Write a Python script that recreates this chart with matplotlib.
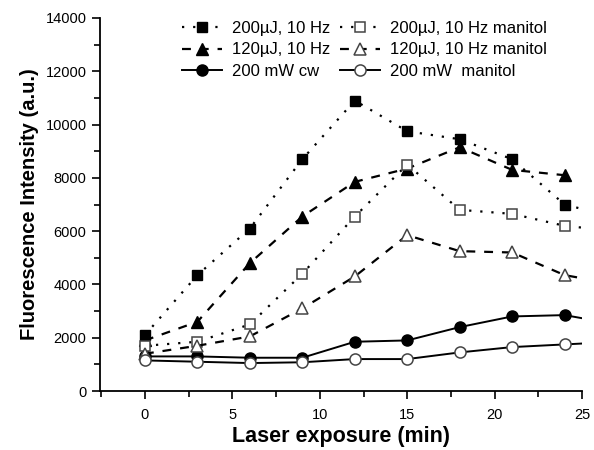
import matplotlib
matplotlib.use("Agg")
import matplotlib.pyplot as plt
from matplotlib.ticker import MultipleLocator

plt.rcParams['font.family'] = ['Liberation Sans', 'DejaVu Sans']

# exposure times (min); last point lies past the visible axis edge
t = [0, 3, 6, 9, 12, 15, 18, 21, 24, 27]

uj200 = [2100, 4350, 6100, 8700, 10900, 9750, 9450, 8700, 7000, 6500]
uj200_man = [1700, 1850, 2500, 4400, 6550, 8500, 6800, 6650, 6200, 6000]
uj120 = [1900, 2600, 4800, 6550, 7850, 8350, 9150, 8300, 8100]
uj120_man = [1400, 1700, 2050, 3100, 4300, 5850, 5250, 5200, 4350, 4000]
mw200 = [1300, 1300, 1250, 1250, 1850, 1900, 2400, 2800, 2850, 2500]
mw200_man = [1150, 1100, 1050, 1080, 1200, 1200, 1450, 1650, 1750, 1850]

labels = ["200\u00b5J, 10 Hz", "120\u00b5J, 10 Hz", "200 mW cw",
          "200\u00b5J, 10 Hz manitol", "120\u00b5J, 10 Hz manitol", "200 mW  manitol"]

fig = plt.figure(figsize=(5.94, 4.5), dpi=100)
ax = fig.add_axes([0.168, 0.131, 0.812, 0.829])

open_edge = '#444444'
h1, = ax.plot(t, uj200, ls=(0, (1, 4)), lw=1.6, color='black', marker='s', ms=7.5,
              mfc='black', mec='black')
h2, = ax.plot(t[:len(uj120)], uj120, ls=(0, (4, 4)), lw=1.6, color='black', marker='^', ms=9,
              mfc='black', mec='black')
h3, = ax.plot(t, mw200, ls='-', lw=1.4, color='black', marker='o', ms=8,
              mfc='black', mec='black')
h4, = ax.plot(t, uj200_man, ls=(0, (1, 4)), lw=1.6, color='black', marker='s', ms=7.5,
              mfc='white', mec=open_edge, mew=1.1)
h5, = ax.plot(t, uj120_man, ls=(0, (4, 4)), lw=1.6, color='black', marker='^', ms=9,
              mfc='white', mec=open_edge, mew=1.1)
h6, = ax.plot(t, mw200_man, ls='-', lw=1.4, color='black', marker='o', ms=8,
              mfc='white', mec=open_edge, mew=1.1)

ax.set_xlim(-2.58, 25)
ax.set_ylim(0, 14000)
ax.xaxis.set_major_locator(MultipleLocator(5))
ax.xaxis.set_minor_locator(MultipleLocator(2.5))
ax.yaxis.set_major_locator(MultipleLocator(2000))
ax.yaxis.set_minor_locator(MultipleLocator(1000))
ax.tick_params(which='major', direction='out', length=6, width=1.2, labelsize=10.5)
ax.tick_params(axis='x', which='major', pad=6)
ax.tick_params(which='minor', direction='out', length=4, width=1.2)
ax.spines['top'].set_visible(False)
ax.spines['right'].set_visible(False)
ax.spines['left'].set_linewidth(1.3)
ax.spines['bottom'].set_linewidth(1.3)

ax.set_xlabel("Laser exposure (min)", fontsize=15.5, fontweight='bold', labelpad=3)
ax.set_ylabel("Fluorescence Intensity (a.u.)", fontsize=14.5, fontweight='bold', labelpad=5)

fig.legend([h1, h2, h3, h4, h5, h6], labels, ncol=2, frameon=False,
           loc='upper left', bbox_to_anchor=(0.306, 0.953), fontsize=12,
           handlelength=2.4, handletextpad=0.6, columnspacing=0.6,
           labelspacing=0.38, borderpad=0, borderaxespad=0)

fig.savefig("out.png", dpi=100)
